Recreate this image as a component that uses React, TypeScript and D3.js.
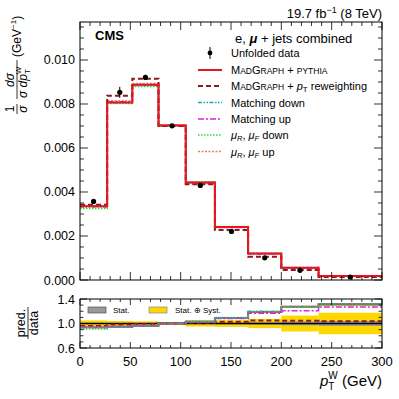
import * as d3 from "d3";

// bin edges of the W boson pT (GeV)
const edges = [0, 27, 52, 78, 105, 134, 167, 200, 237, 300];

// normalised differential cross section (GeV^-1)
const dataVals = [0.00357, 0.00853, 0.00921, 0.00701, 0.0043, 0.00221, 0.00101, 0.00044, 0.000137];
const dataErr = [0.0001, 0.00025, 0.00012, 0.00004, 0.00008, 0.00005, 0.00003, 0.00002, 0.00001];

const madgraph = [0.00335, 0.00807, 0.00888, 0.00703, 0.00443, 0.00241, 0.0012, 0.00056, 0.00018];
const ptRew = [0.00342, 0.00838, 0.00915, 0.007, 0.00435, 0.00227, 0.00106, 0.00046, 0.000142];
const matchDown = [0.00332, 0.00806, 0.00884, 0.00701, 0.00443, 0.00241, 0.00121, 0.000563, 0.000181];
const matchUp = [0.00336, 0.0081, 0.00889, 0.00701, 0.00439, 0.00239, 0.00118, 0.000532, 0.000174];
const scaleDown = [0.00325, 0.00802, 0.0088, 0.00701, 0.00447, 0.00243, 0.0012, 0.000559, 0.000178];
const scaleUp = [0.00336, 0.00815, 0.00893, 0.00701, 0.00443, 0.00241, 0.0012, 0.000559, 0.000178];

// relative uncertainties for the ratio bands
const statUnc = [0.01, 0.008, 0.008, 0.008, 0.01, 0.015, 0.02, 0.03, 0.04];
const totUnc = [0.05, 0.04, 0.035, 0.025, 0.05, 0.055, 0.075, 0.13, 0.175];

const mainTicks = [0, 0.002, 0.004, 0.006, 0.008, 0.01];
const ratioTicks = [0.6, 1.0, 1.4];
const xTicks = [0, 50, 100, 150, 200, 250, 300];

const FONT = "'Liberation Sans', Arial, Helvetica, sans-serif";

const L = 80;
const R = 382;
const mainTop = 22;
const mainBot = 280;
const ratTop = 299;
const ratBot = 348;

const series = [
  { key: "scaleUp", vals: scaleUp, color: "#e8825a", dash: "2 1.5", w: 1.5 },
  { key: "scaleDown", vals: scaleDown, color: "#22dd22", dash: "1.5 1.5", w: 1.5 },
  { key: "matchUp", vals: matchUp, color: "#dd22dd", dash: "6 2 2 2", w: 1.5 },
  { key: "matchDown", vals: matchDown, color: "#22a8a8", dash: "4 1.5 1.5 1.5 1.5 1.5", w: 1.5 },
  { key: "ptRew", vals: ptRew, color: "#8b1a1a", dash: "5 3", w: 2 },
  { key: "madgraph", vals: madgraph, color: "#e8141e", dash: null, w: 2 },
];

const x = d3.scaleLinear().domain([0, 300]).range([L, R]);
const y = d3.scaleLinear().domain([0, 0.011727]).range([mainBot, mainTop]);
const yr = d3.scaleLinear().domain([0.6, 1.4]).range([ratBot, ratTop]);

const stepLine = d3
  .line<[number, number]>()
  .x((d) => d[0])
  .y((d) => d[1])
  .curve(d3.curveStepAfter);

const stepPath = (vals: number[], ys: (v: number) => number) => {
  const pts: [number, number][] = vals.map((v, i) => [x(edges[i]), ys(v)]);
  pts.push([x(300), ys(vals[vals.length - 1])]);
  return stepLine(pts) || "";
};

const ratio = (vals: number[]) => vals.map((v, i) => v / dataVals[i]);

const App = () => {
  const yMinor = d3.range(0, 0.01151, 0.0005);
  const xMinor = d3.range(0, 301, 10);
  const rMinor = d3.range(0.6, 1.401, 0.1);
  const legendY = [53, 70, 86, 102.5, 119, 135, 151.5];

  return (
    <svg
      width={399}
      height={399}
      style={{ position: "absolute", left: 0, top: 0, background: "#fff" }}
      fontFamily={FONT}
    >
      <defs>
        <clipPath id="clipMain">
          <rect x={L} y={mainTop} width={R - L} height={mainBot - mainTop} />
        </clipPath>
        <clipPath id="clipRat">
          <rect x={L} y={ratTop} width={R - L} height={ratBot - ratTop} />
        </clipPath>
      </defs>

      {/* main panel histograms */}
      <g clipPath="url(#clipMain)">
        {series.map((s) => (
          <path
            key={s.key}
            d={stepPath(s.vals, y)}
            fill="none"
            stroke={s.color}
            strokeWidth={s.w}
            strokeDasharray={s.dash || undefined}
          />
        ))}
        {dataVals.map((v, i) => {
          const cx = x((edges[i] + edges[i + 1]) / 2);
          return (
            <g key={i}>
              <line x1={cx} x2={cx} y1={y(v - dataErr[i])} y2={y(v + dataErr[i])} stroke="#000" strokeWidth={1} />
              <circle cx={cx} cy={y(v)} r={2.6} fill="#000" />
            </g>
          );
        })}
      </g>

      {/* main frame and ticks */}
      <rect x={L} y={mainTop} width={R - L} height={mainBot - mainTop} fill="none" stroke="#000" strokeWidth={1} />
      {yMinor.map((t, i) => {
        const len = i % 4 === 0 ? 8 : 4;
        return (
          <g key={"ym" + i}>
            <line x1={L} x2={L + len} y1={y(t)} y2={y(t)} stroke="#000" strokeWidth={0.8} />
            <line x1={R} x2={R - len} y1={y(t)} y2={y(t)} stroke="#000" strokeWidth={0.8} />
          </g>
        );
      })}
      {xMinor.map((t, i) => {
        const len = t % 50 === 0 ? 8 : 4;
        return (
          <g key={"xm" + i}>
            <line x1={x(t)} x2={x(t)} y1={mainBot} y2={mainBot - len} stroke="#000" strokeWidth={0.8} />
            <line x1={x(t)} x2={x(t)} y1={mainTop} y2={mainTop + len} stroke="#000" strokeWidth={0.8} />
          </g>
        );
      })}
      {mainTicks.map((t) => (
        <text key={"yl" + t} x={L - 5} y={y(t) + 4.5} fontSize={12.5} textAnchor="end">
          {d3.format(".3f")(t)}
        </text>
      ))}

      {/* y axis title */}
      <g transform="translate(17,113) rotate(-90)" fontSize={12}>
        <text x={4} y={-3} textAnchor="middle">1</text>
        <line x1={-1} x2={9} y1={0} y2={0} stroke="#000" strokeWidth={0.8} />
        <text x={4} y={10} textAnchor="middle" fontStyle="italic">σ</text>
        <text x={33} y={-3} textAnchor="middle" fontStyle="italic">dσ</text>
        <line x1={14} x2={53} y1={0} y2={0} stroke="#000" strokeWidth={0.8} />
        <text x={15} y={10} fontStyle="italic">
          σ dp
          <tspan fontSize={8} fontStyle="normal" dy={3}>T</tspan>
          <tspan fontSize={8} fontStyle="normal" dx={-5} dy={-9}>W</tspan>
        </text>
        <text x={56} y={4}>
          (GeV
          <tspan fontSize={8} dy={-5}>−1</tspan>
          <tspan dy={5}>)</tspan>
        </text>
      </g>

      {/* labels */}
      <text x={95} y={40} fontSize={13} fontWeight="bold">CMS</text>
      <text x={R} y={18} fontSize={13} textAnchor="end">
        19.7 fb<tspan fontSize={9} dy={-5}>−1</tspan>
        <tspan dy={5}> (8 TeV)</tspan>
      </text>
      <text x={235} y={43} fontSize={13}>
        e, <tspan fontStyle="italic" fontWeight="bold">μ</tspan> + jets combined
      </text>

      {/* legend */}
      <g fontSize={11}>
        <line x1={210} x2={210} y1={legendY[0] - 6} y2={legendY[0] + 6} stroke="#000" strokeWidth={1} />
        <circle cx={210} cy={legendY[0]} r={2.4} fill="#000" />
        <text x={231} y={legendY[0] + 4}>Unfolded data</text>
        {[...series].reverse().map((s, i) => (
          <line
            key={"lg" + s.key}
            x1={198}
            x2={222}
            y1={legendY[i + 1]}
            y2={legendY[i + 1]}
            stroke={s.color}
            strokeWidth={s.w}
            strokeDasharray={s.dash || undefined}
          />
        ))}
        <text x={231} y={legendY[1] + 4}>
          M<tspan fontSize={8.5}>AD</tspan>G<tspan fontSize={8.5}>RAPH</tspan> + <tspan fontSize={8.5}>PYTHIA</tspan>
        </text>
        <text x={231} y={legendY[2] + 4}>
          M<tspan fontSize={8.5}>AD</tspan>G<tspan fontSize={8.5}>RAPH</tspan> + <tspan fontStyle="italic">p</tspan>
          <tspan fontSize={8} dy={2}>T</tspan>
          <tspan dy={-2}> reweighting</tspan>
        </text>
        <text x={231} y={legendY[3] + 4}>Matching down</text>
        <text x={231} y={legendY[4] + 4}>Matching up</text>
        <text x={231} y={legendY[5] + 4}>
          <tspan fontStyle="italic">μ</tspan>
          <tspan fontSize={7.5} fontStyle="italic" dy={2}>R</tspan>
          <tspan dy={-2}>, </tspan>
          <tspan fontStyle="italic">μ</tspan>
          <tspan fontSize={7.5} fontStyle="italic" dy={2}>F</tspan>
          <tspan dy={-2}> down</tspan>
        </text>
        <text x={231} y={legendY[6] + 4}>
          <tspan fontStyle="italic">μ</tspan>
          <tspan fontSize={7.5} fontStyle="italic" dy={2}>R</tspan>
          <tspan dy={-2}>, </tspan>
          <tspan fontStyle="italic">μ</tspan>
          <tspan fontSize={7.5} fontStyle="italic" dy={2}>F</tspan>
          <tspan dy={-2}> up</tspan>
        </text>
      </g>

      {/* ratio panel */}
      <g clipPath="url(#clipRat)">
        {totUnc.map((u, i) => (
          <rect
            key={"tot" + i}
            x={x(edges[i])}
            width={x(edges[i + 1]) - x(edges[i])}
            y={yr(1 + u)}
            height={yr(1 - u) - yr(1 + u)}
            fill="#ffd700"
          />
        ))}
        {statUnc.map((u, i) => (
          <rect
            key={"stat" + i}
            x={x(edges[i])}
            width={x(edges[i + 1]) - x(edges[i])}
            y={yr(1 + u)}
            height={yr(1 - u) - yr(1 + u)}
            fill="#999"
          />
        ))}
        <line x1={L} x2={R} y1={yr(1)} y2={yr(1)} stroke="#000" strokeWidth={1.5} />
        {[series[5], series[4], series[0], series[1], series[2], series[3]].map((s) => (
          <path
            key={"r" + s.key}
            d={stepPath(ratio(s.vals), yr)}
            fill="none"
            stroke={s.color}
            strokeWidth={s.w}
            strokeDasharray={s.dash || undefined}
          />
        ))}
      </g>
      <rect x={L} y={ratTop} width={R - L} height={ratBot - ratTop} fill="none" stroke="#000" strokeWidth={1} />
      {rMinor.map((t, i) => {
        const len = i % 4 === 0 ? 7 : 3.5;
        return (
          <g key={"rm" + i}>
            <line x1={L} x2={L + len} y1={yr(t)} y2={yr(t)} stroke="#000" strokeWidth={0.8} />
            <line x1={R} x2={R - len} y1={yr(t)} y2={yr(t)} stroke="#000" strokeWidth={0.8} />
          </g>
        );
      })}
      {xMinor.map((t, i) => {
        const len = t % 50 === 0 ? 6 : 3;
        return (
          <g key={"rx" + i}>
            <line x1={x(t)} x2={x(t)} y1={ratBot} y2={ratBot - len} stroke="#000" strokeWidth={0.8} />
            <line x1={x(t)} x2={x(t)} y1={ratTop} y2={ratTop + len} stroke="#000" strokeWidth={0.8} />
          </g>
        );
      })}
      {ratioTicks.map((t) => (
        <text key={"rl" + t} x={L - 5} y={yr(t) + 4.5} fontSize={12.5} textAnchor="end">
          {d3.format(".1f")(t)}
        </text>
      ))}
      {xTicks.map((t) => (
        <text key={"xl" + t} x={x(t)} y={366} fontSize={13} textAnchor="middle">
          {t}
        </text>
      ))}

      {/* ratio legend */}
      <rect x={88} y={307} width={18} height={6} fill="#999" stroke="#555" strokeWidth={0.7} />
      <text x={113} y={313} fontSize={8}>Stat.</text>
      <rect x={149} y={307} width={18} height={6} fill="#ffd700" stroke="#888" strokeWidth={0.7} />
      <text x={175} y={313} fontSize={8}>Stat. ⊕ Syst.</text>

      <g transform="translate(28,323) rotate(-90)" fontSize={12.5}>
        <text x={0} y={-3} textAnchor="middle">pred.</text>
        <line x1={-16} x2={16} y1={0} y2={0} stroke="#000" strokeWidth={0.8} />
        <text x={0} y={10} textAnchor="middle">data</text>
      </g>

      <text x={R} y={386} fontSize={15} textAnchor="end">
        <tspan fontStyle="italic">p</tspan>
        <tspan fontSize={10} dy={4}>T</tspan>
        <tspan fontSize={10} dx={-6} dy={-11}>W</tspan>
        <tspan dy={7}> (GeV)</tspan>
      </text>
    </svg>
  );
};

export default App;
